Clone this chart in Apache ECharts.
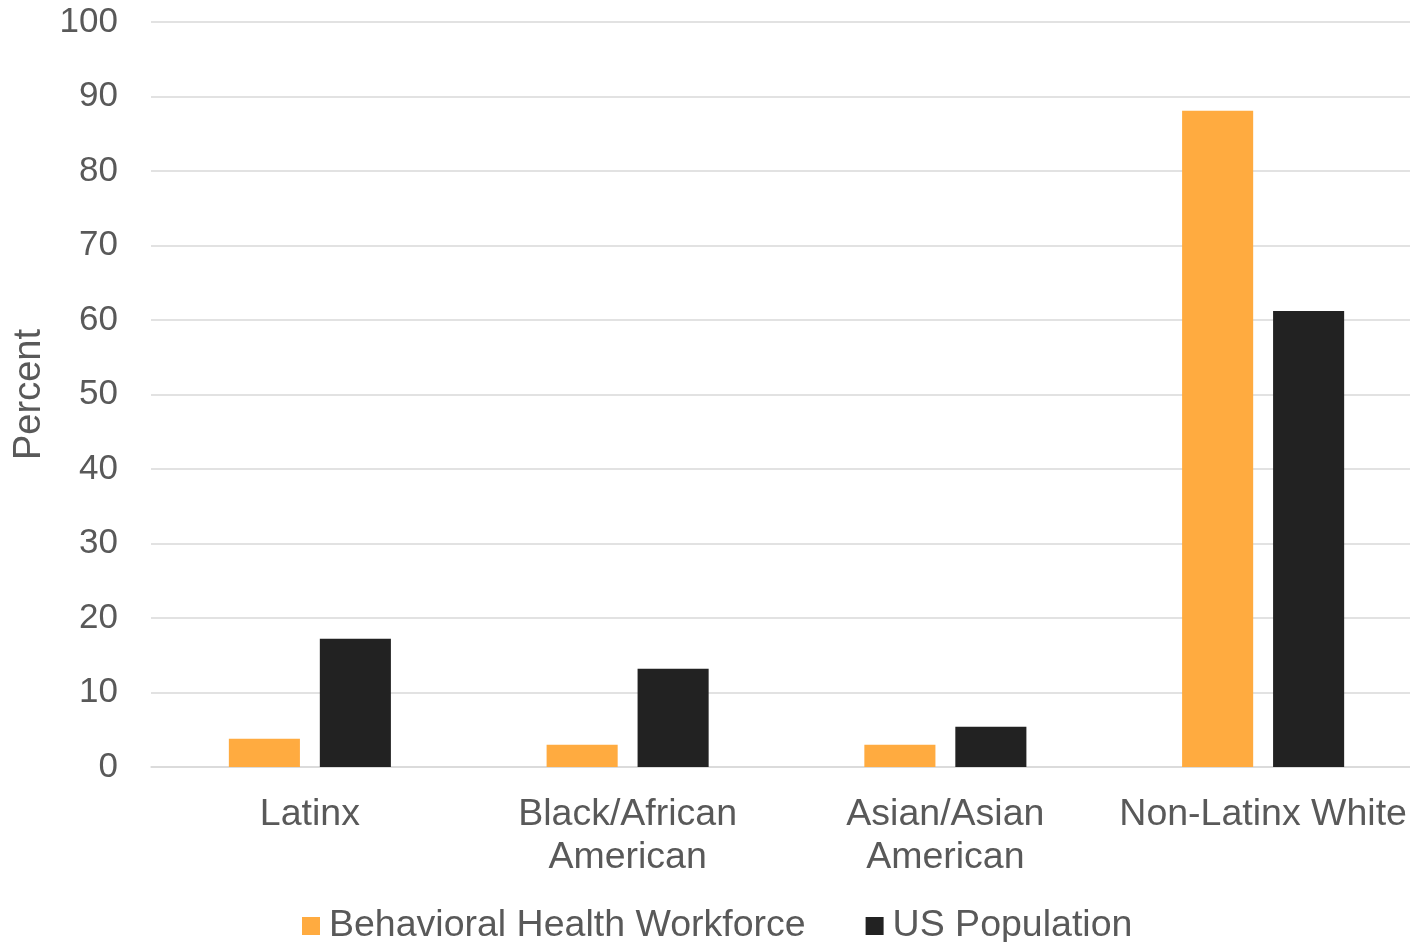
<!DOCTYPE html>
<html>
<head>
<meta charset="utf-8">
<script src="https://cdn.jsdelivr.net/npm/echarts@6/dist/echarts.min.js"></script>
<style>
  html, body { margin: 0; padding: 0; background: #fff; }
  #chart { width: 1410px; height: 942px; }
</style>
</head>
<body>
<div id="chart"></div>
<script>
const categories = ['Latinx', 'Black/African\nAmerican', 'Asian/Asian\nAmerican', 'Non-Latinx White'];
const workforce = [3.8, 3.0, 3.0, 88.1];
const usPopulation = [17.2, 13.2, 5.4, 61.2];
const seriesNames = ['Behavioral Health Workforce', 'US Population'];

const font = '"Liberation Sans", Arial, sans-serif';
const textColor = '#595959';

const chart = echarts.init(document.getElementById('chart'));

chart.setOption({
  animation: false,
  textStyle: { fontFamily: font },
  // plot area runs a little past the right edge, as in the original export
  grid: {
    left: 151, width: 1271, top: 22, bottom: 175,
    containLabel: false, outerBoundsMode: 'none',
  },
  legend: {
    data: seriesNames,
    left: 297,
    top: 902,
    icon: 'rect',
    itemWidth: 18,
    itemHeight: 18,
    itemGap: 60,
    textStyle: { fontFamily: font, fontSize: 37.5, color: textColor, padding: [0, 0, 0, 4] },
  },
  xAxis: {
    type: 'category',
    data: categories,
    axisLine: { lineStyle: { color: '#d9d9d9', width: 1.5 } },
    axisTick: { show: false },
    axisLabel: {
      fontFamily: font,
      fontSize: 37.5,
      color: textColor,
      lineHeight: 43,
      margin: 26,
      interval: 0,
    },
  },
  yAxis: {
    type: 'value',
    min: 0,
    max: 100,
    interval: 10,
    name: 'Percent',
    nameLocation: 'middle',
    nameGap: 99,
    nameRotate: 90,
    nameTextStyle: { fontFamily: font, fontSize: 38, color: textColor },
    axisLine: { show: false },
    axisTick: { show: false },
    axisLabel: { fontFamily: font, fontSize: 35, color: textColor, margin: 33 },
    splitLine: { lineStyle: { color: '#d9d9d9', width: 1.5 } },
  },
  series: [
    {
      name: seriesNames[0],
      type: 'bar',
      data: workforce,
      itemStyle: { color: '#ffab40' },
      barGap: '28%',
      barCategoryGap: '49%',
    },
    {
      name: seriesNames[1],
      type: 'bar',
      data: usPopulation,
      itemStyle: { color: '#222222' },
    },
  ],
});
</script>
</body>
</html>
